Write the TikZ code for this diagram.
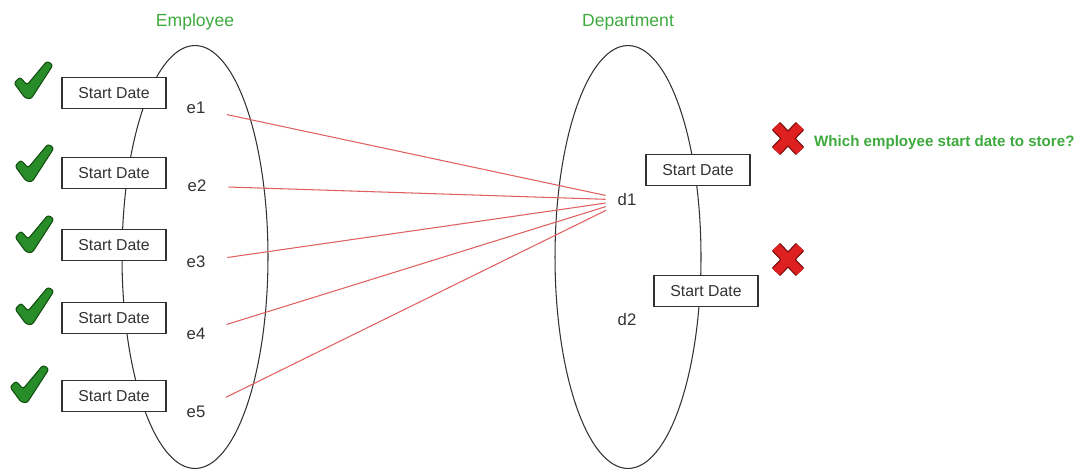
\documentclass[tikz,border=0pt]{standalone}
\usepackage{fontspec}
\setmainfont{Liberation Sans}
\usepackage{tikz}
\usetikzlibrary{shapes.geometric}

\definecolor{setgreen}{RGB}{62,170,62}
\definecolor{tickgreen}{RGB}{40,140,40}
\definecolor{tickedge}{RGB}{18,78,18}
\definecolor{crossred}{RGB}{222,32,32}
\definecolor{crossedge}{RGB}{120,12,12}
\definecolor{linkred}{RGB}{222,96,96}
\definecolor{inkgray}{RGB}{50,50,50}

\tikzset{
	okmark/.pic={
		\filldraw[fill=tickgreen, draw=tickedge, line width=0.6pt, rounded corners=1.5pt]
			(-20,3) -- (-14,-3) -- (-7,5) -- (13,-19) -- (19,-15) -- (-3,19) -- (-9,18) -- cycle;
	},
	nomark/.pic={
		\draw[crossedge, line width=6.6pt] (-12,-12) -- (12,13) (12,-12) -- (-12,13);
		\draw[crossred, line width=5.2pt] (-12,-12) -- (12,13) (12,-12) -- (-12,13);
	}
}

\begin{document}
\begin{tikzpicture}[
			x=0.02cm, y=-0.02cm,
			every node/.style={font=\fontsize{9.5}{11}\selectfont, text=inkgray},
			set/.style={ellipse, draw=inkgray, line width=0.6pt, minimum width=2.92cm, minimum height=8.46cm, inner sep=0pt},
			title/.style={text=setgreen, font=\fontsize{10}{12}\selectfont},
			attr/.style={rectangle, draw=inkgray, line width=0.6pt, fill=white, minimum width=2.08cm, minimum height=0.62cm, inner sep=0pt, font=\fontsize{9}{11}\selectfont},
			link/.style={linkred, line width=0.6pt, shorten <=0.32cm, shorten >=0.12cm}
		]
		\useasboundingbox (0,0) rectangle (1078,470);

		% the two entity sets
		\node (emp) [set] at (195,257) {};
		\node (dept) [set] at (628,257) {};
		\node (emptitle) [title] at (195,22) {Employee};
		\node (depttitle) [title] at (628,22) {Department};

		% employees
		\node (e1) at (196,108) {e1};
		\node (e2) at (197,186) {e2};
		\node (e3) at (196,262) {e3};
		\node (e4) at (196,334) {e4};
		\node (e5) at (196,412) {e5};

		% departments
		\node (d1) at (627,200) {d1};
		\node (d2) at (627,320) {d2};

		% start date on each employee
		\node (sd1) [attr] at (114,93) {Start Date};
		\node (sd2) [attr] at (114,173) {Start Date};
		\node (sd3) [attr] at (114,245) {Start Date};
		\node (sd4) [attr] at (114,318) {Start Date};
		\node (sd5) [attr] at (114,396) {Start Date};

		% start date on the departments
		\node (dsd1) [attr] at (698,170) {Start Date};
		\node (dsd2) [attr] at (706,291) {Start Date};

		\pic at (34,80) {okmark};
		\pic at (35,163) {okmark};
		\pic at (35,234) {okmark};
		\pic at (35,306) {okmark};
		\pic at (30,384) {okmark};

		\pic at (788,138) {nomark};
		\pic at (788,259) {nomark};
		\node (question) [anchor=west, text=setgreen, font=\fontsize{8.6}{10}\selectfont\bfseries] at (808,143) {Which employee start date to store?};

		% lines - many employees to one department
		\draw[link] (e1) -- (d1);
		\draw[link] (e2) -- (d1);
		\draw[link] (e3) -- (d1);
		\draw[link] (e4) -- (d1);
		\draw[link] (e5) -- (d1);
	\end{tikzpicture}
\end{document}
